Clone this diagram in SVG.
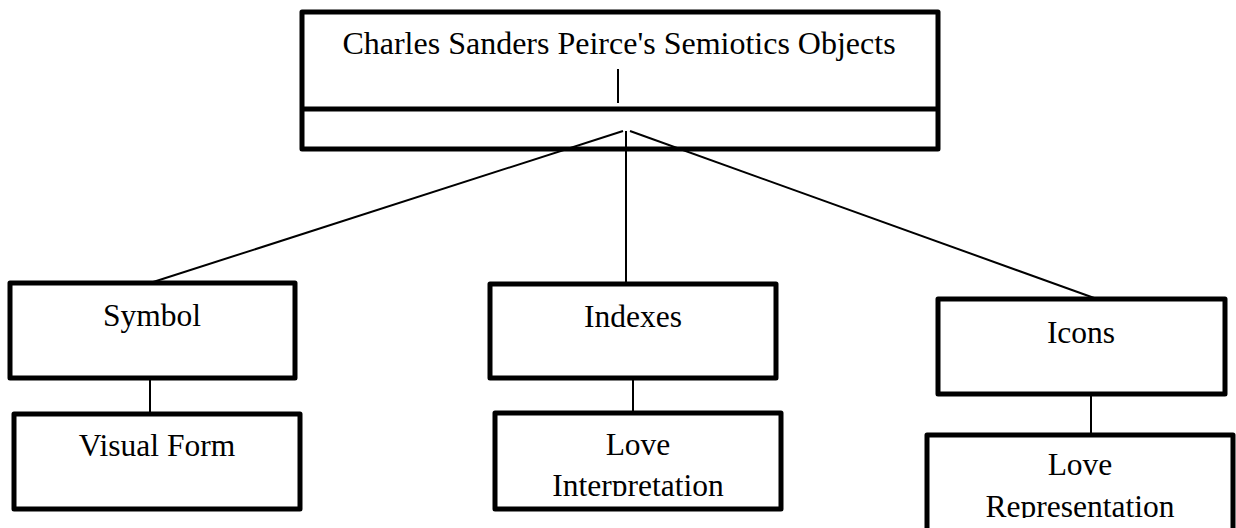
<svg xmlns="http://www.w3.org/2000/svg" width="1236" height="528" viewBox="0 0 1236 528">
<style>
.box{fill:#fff;stroke:#000;stroke-width:5;stroke-linejoin:round}
.div{stroke:#000;stroke-width:5}
.ln{stroke:#000;stroke-width:2;fill:none}
.t{font-family:"Liberation Serif","Times New Roman",serif;font-size:31.5px;fill:#000;text-anchor:middle}
</style>
<defs>
<clipPath id="c1"><rect x="498" y="416" width="280" height="80"/></clipPath>
<clipPath id="c2"><rect x="930" y="438" width="300" height="80"/></clipPath>
</defs>
<rect width="1236" height="528" fill="#fff"/>
<g id="connectors">
<line class="ln" x1="618" y1="69" x2="618" y2="103"/>
<line class="ln" x1="623" y1="131" x2="150" y2="283"/>
<line class="ln" x1="626" y1="131" x2="626" y2="284"/>
<line class="ln" x1="630" y1="131" x2="1097" y2="299"/>
<line class="ln" x1="150" y1="378" x2="150" y2="414"/>
<line class="ln" x1="633" y1="378" x2="633" y2="413"/>
<line class="ln" x1="1091" y1="394" x2="1091" y2="435"/>
</g>
<g id="root">
<rect class="box" x="302" y="12" width="636" height="137" style="fill:none"/>
<line class="div" x1="302" y1="109" x2="938" y2="109"/>
<text class="t" x="619" y="54" style="font-size:32px">Charles Sanders Peirce's Semiotics Objects</text>
</g>
<g id="symbol">
<rect class="box" x="10" y="283" width="285" height="95"/>
<text class="t" x="152" y="326">Symbol</text>
</g>
<g id="visual-form">
<rect class="box" x="14" y="414" width="286" height="95"/>
<text class="t" x="157" y="456">Visual Form</text>
</g>
<g id="indexes">
<rect class="box" x="490" y="284" width="286" height="94"/>
<text class="t" x="633" y="327">Indexes</text>
</g>
<g id="love-interpretation">
<rect class="box" x="495" y="413" width="286" height="96"/>
<g clip-path="url(#c1)">
<text class="t" x="638" y="455">Love</text>
<text class="t" x="638" y="496">Interpretation</text>
</g>
</g>
<g id="icons">
<rect class="box" x="938" y="299" width="287" height="95"/>
<text class="t" x="1081" y="343">Icons</text>
</g>
<g id="love-representation">
<rect class="box" x="927" y="435" width="306" height="110"/>
<g clip-path="url(#c2)">
<text class="t" x="1080" y="475">Love</text>
<text class="t" x="1080" y="517">Representation</text>
</g>
</g>
</svg>
